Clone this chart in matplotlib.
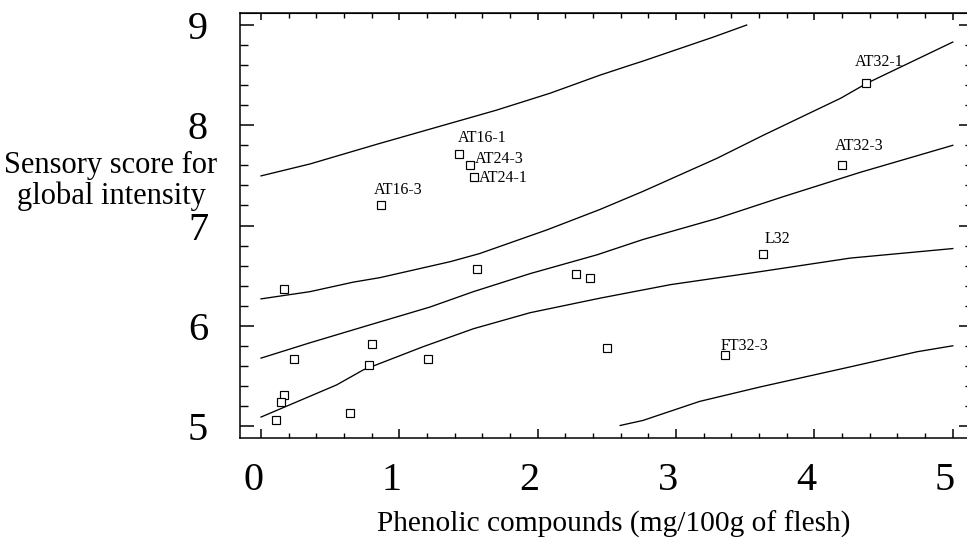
import matplotlib
matplotlib.use('Agg')
import matplotlib.pyplot as plt
import matplotlib.transforms as mtransforms
from matplotlib.ticker import MultipleLocator, NullFormatter

plt.rcParams['font.family'] = ['Liberation Serif', 'DejaVu Serif']

# labelled samples
lab_names = ['AT16-1', 'AT24-3', 'AT24-1', 'AT16-3', 'AT32-1', 'AT32-3', 'L32', 'FT32-3']
lab_x = [1.43, 1.51, 1.54, 0.866, 4.37, 4.20, 3.625, 3.35]
lab_y = [7.71, 7.60, 7.48, 7.20, 8.42, 7.60, 6.72, 5.707]

# unlabelled samples
pt_x = [2.504, 0.166, 1.56, 2.275, 2.38, 0.236, 0.80, 0.78, 1.21, 0.166, 0.145, 0.106, 0.646]
pt_y = [5.777, 6.365, 6.57, 6.52, 6.48, 5.667, 5.817, 5.613, 5.667, 5.31, 5.24, 5.06, 5.13]

# regression line and bands
fit_x = [0, 0.354, 0.79, 1.22, 1.535, 1.945, 2.427, 2.76, 3.295, 3.78, 4.33, 5.0]
fit_y = [5.677, 5.83, 6.01, 6.186, 6.34, 6.52, 6.707, 6.86, 7.07, 7.29, 7.53, 7.80]
up_conf_x = [0, 0.354, 0.667, 0.86, 1.37, 1.58, 2.066, 2.45, 2.76, 3.295, 3.63, 4.19, 4.38, 5.0]
up_conf_y = [6.268, 6.34, 6.435, 6.48, 6.64, 6.72, 6.956, 7.16, 7.34, 7.67, 7.90, 8.27, 8.42, 8.83]
lo_conf_x = [0, 0.547, 0.74, 1.17, 1.535, 1.945, 2.45, 2.96, 3.61, 4.26, 5.0]
lo_conf_y = [5.089, 5.41, 5.56, 5.79, 5.97, 6.13, 6.275, 6.41, 6.54, 6.675, 6.77]
up_pred_x = [0, 0.354, 0.836, 1.70, 2.09, 2.45, 2.67, 2.76, 3.27, 3.51]
up_pred_y = [7.495, 7.614, 7.81, 8.15, 8.32, 8.50, 8.60, 8.64, 8.88, 9.00]
lo_pred_x = [2.596, 2.76, 3.17, 3.61, 4.26, 4.74, 5.0]
lo_pred_y = [5.005, 5.055, 5.245, 5.39, 5.59, 5.74, 5.80]

# label offsets in pixels (right, up) from the marker centre
lab_off = [(-1, 12.6), (4.6, 2.4), (4.6, -4.6), (-6.7, 11.7),
           (-10.7, 17), (-7.3, 15.3), (1.7, 11), (-4.3, 5.3)]

W, H = 967, 542
fig = plt.figure(figsize=(W / 100, H / 100), dpi=100)
ax = fig.add_axes([240 / W, 1 - 438 / H, 728 / W, 425 / H])

lw = 0.95
for xs, ys in [(up_pred_x, up_pred_y), (up_conf_x, up_conf_y), (fit_x, fit_y),
               (lo_conf_x, lo_conf_y), (lo_pred_x, lo_pred_y)]:
    ax.plot(xs, ys, color='black', lw=lw)

ax.plot(lab_x + pt_x, lab_y + pt_y, 's', ms=5.6, mfc='white', mec='black', mew=0.85,
        ls='none', zorder=3)

for name, x, y, off in zip(lab_names, lab_x, lab_y, lab_off):
    ax.annotate(name, (x, y), xytext=off, textcoords='offset pixels',
                ha='left', va='baseline', fontsize=11.5)

ax.set_xlim(-0.152, 5.11)
ax.set_ylim(4.88, 9.12)

for s in ax.spines.values():
    s.set_linewidth(1.1)

ax.xaxis.set_major_locator(MultipleLocator(1))
ax.xaxis.set_minor_locator(MultipleLocator(0.2))
ax.yaxis.set_major_locator(MultipleLocator(1))
ax.yaxis.set_minor_locator(MultipleLocator(0.2))
ax.tick_params(axis='y', which='major', direction='in', length=10, width=1.1,
               labelsize=29, pad=23)
ax.tick_params(axis='y', which='minor', direction='in', length=5.8, width=1.0)
ax.tick_params(axis='x', which='major', direction='in', length=6.5, width=1.1,
               labelsize=29, pad=17)
ax.tick_params(axis='x', which='minor', direction='in', length=3.6, width=1.0)

shift = mtransforms.ScaledTranslation(-8 / 100, 0, fig.dpi_scale_trans)
for lbl in ax.get_xticklabels():
    lbl.set_transform(lbl.get_transform() + shift)

# top and right ticks
top = ax.secondary_xaxis('top')
top.xaxis.set_major_locator(MultipleLocator(1))
top.xaxis.set_minor_locator(MultipleLocator(0.2))
top.xaxis.set_major_formatter(NullFormatter())
top.tick_params(axis='x', which='major', direction='in', length=5, width=1.1)
top.tick_params(axis='x', which='minor', direction='in', length=3.6, width=1.0)

right = ax.secondary_yaxis('right')
right.yaxis.set_major_locator(MultipleLocator(1))
right.yaxis.set_minor_locator(MultipleLocator(0.2))
right.yaxis.set_major_formatter(NullFormatter())
right.tick_params(axis='y', which='major', direction='in', length=6.5, width=1.1)
right.tick_params(axis='y', which='minor', direction='in', length=2.2, width=1.0)

fig.text(614 / W, 1 - 532 / H, 'Phenolic compounds (mg/100g of flesh)',
         ha='center', va='baseline', fontsize=21.2)
fig.text(111 / W, 1 - 181 / H, 'Sensory score for\nglobal intensity',
         ha='center', va='center', fontsize=22, linespacing=1.05)

fig.savefig('out.png', dpi=100)
